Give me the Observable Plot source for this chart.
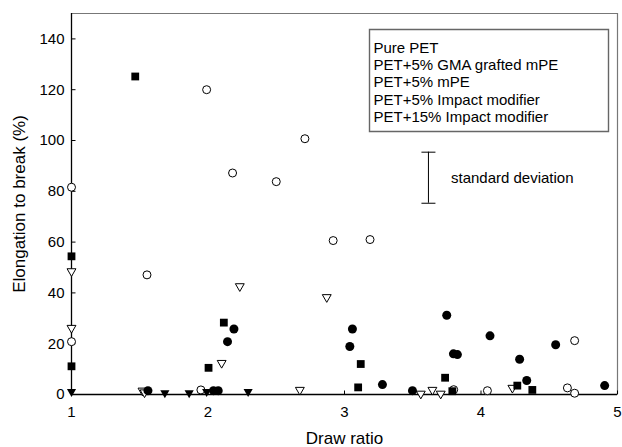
<!DOCTYPE html>
<html>
<head>
<meta charset="utf-8">
<script src="https://cdn.jsdelivr.net/npm/d3@7"></script>
<script src="https://cdn.jsdelivr.net/npm/@observablehq/plot@0.6"></script>
<style>
  html, body { margin: 0; padding: 0; background: #fff; }
  #chart { width: 622px; height: 447px; }
</style>
</head>
<body>
<div id="chart"></div>
<script>
// ---- Data ----
const seriesNames = ["Pure PET", "PET+5% GMA grafted mPE", "PET+5% mPE", "PET+5% Impact modifier", "PET+15% Impact modifier"];

const purePET_x = [1.56, 2.04, 2.075, 2.143, 2.19, 3.039, 3.058, 3.278, 3.498, 3.749, 3.798, 3.827, 4.066, 4.283, 4.335, 4.547, 4.906];
const purePET_y = [1.5, 1.5, 1.5, 20.8, 25.8, 18.9, 25.8, 3.9, 1.5, 31.2, 16.0, 15.7, 23.1, 13.9, 5.5, 19.6, 3.5];

const gma_x = [1.0, 1.0, 1.553, 1.948, 1.99, 2.18, 2.50, 2.71, 2.917, 3.187, 3.80, 4.047, 4.633, 4.686, 4.686];
const gma_y = [81.6, 20.8, 47.1, 1.8, 120.0, 87.2, 83.8, 100.7, 60.6, 61.0, 1.9, 1.5, 2.6, 0.5, 21.2];

const mpe_x = [1.0, 1.684, 1.862, 1.99, 2.294];
const mpe_y = [1.1, 0.6, 0.6, 1.1, 1.1];

const im5_x = [1.0, 1.0, 1.52, 1.535, 2.10, 2.233, 2.673, 2.87, 3.559, 3.644, 3.705, 4.23];
const im5_y = [48.5, 26.2, 1.5, 0.8, 12.4, 42.6, 1.8, 38.3, 0.3, 1.8, 0.3, 2.6];

const im15_x = [1.0, 1.0, 1.467, 2.004, 2.116, 3.10, 3.119, 3.737, 3.79, 4.266, 4.376];
const im15_y = [54.4, 11.1, 125.2, 10.5, 28.3, 2.8, 12.0, 6.6, 1.3, 3.5, 1.8];

const xTicks = [1, 2, 3, 4, 5];
const yTicks = [0, 20, 40, 60, 80, 100, 120, 140];
const xLabel = "Draw ratio";
const yLabel = "Elongation to break (%)";

// standard deviation annotation (data units)
const sdBar = [{x: 3.615, y1: 75.3, y2: 95.4}];
const sdLabel = [{x: 3.78, y: 85.3, text: "standard deviation"}];

// ---- Build tables ----
const zip = (xs, ys) => xs.map((x, i) => ({x, y: ys[i]}));
const purePET = zip(purePET_x, purePET_y);
const gma = zip(gma_x, gma_y);
const mpe = zip(mpe_x, mpe_y);
const im5 = zip(im5_x, im5_y);
const im15 = zip(im15_x, im15_y);

// ---- Custom symbols ----
const sqrt3 = Math.sqrt(3);
const triangleDown = {
  draw(context, size) {
    const y = Math.sqrt(size / (sqrt3 * 3));
    context.moveTo(0, 2 * y);
    context.lineTo(-sqrt3 * y, -y);
    context.lineTo(sqrt3 * y, -y);
    context.closePath();
  }
};
const tickRight = { draw(c) { c.moveTo(0, 0); c.lineTo(4, 0); } };
const tickUp = { draw(c) { c.moveTo(0, 0); c.lineTo(0, -4); } };
const capLine = { draw(c) { c.moveTo(-7, 0); c.lineTo(7, 0); } };
// legend box relative to top-right corner of the frame
const legendBox = { draw(c) { c.rect(-248, 16, 239, 102); } };

const W = 622, H = 447;
const ML = 71, MR = 5, MT = 13, MB = 53;

const chart = Plot.plot({
  width: W,
  height: H,
  marginLeft: ML,
  marginRight: MR,
  marginTop: MT,
  marginBottom: MB,
  style: {fontFamily: "'Liberation Sans', Arial, sans-serif", fontSize: "15px", background: "#fff", color: "#000"},
  x: {domain: [1, 5], label: null},
  y: {domain: [0, 150], label: null},
  marks: [
    // frame
    Plot.ruleY([150], {stroke: "#777", strokeWidth: 1.2}),
    Plot.ruleX([5], {stroke: "#777", strokeWidth: 1.2}),
    Plot.ruleY([0], {stroke: "#000", strokeWidth: 1.3}),
    Plot.ruleX([1], {stroke: "#000", strokeWidth: 1.3}),
    // inward ticks
    Plot.dot(yTicks, {x: d => 1, y: d => d, symbol: tickRight, stroke: "#000", strokeWidth: 1, r: 3}),
    Plot.dot(xTicks, {x: d => d, y: d => 0, symbol: tickUp, stroke: "#000", strokeWidth: 1, r: 3}),
    Plot.axisY({ticks: yTicks, tickFormat: d3.format("d"), tickSize: 0, tickPadding: 7, fontSize: 15, label: null}),
    Plot.axisX({ticks: xTicks, tickFormat: d3.format("d"), tickSize: 0, tickPadding: 12, fontSize: 15, label: null}),
    // axis titles
    Plot.text([yLabel], {frameAnchor: "left", dx: -52, rotate: -90, textAnchor: "middle", lineAnchor: "middle", fontSize: 17}),
    Plot.text([xLabel], {frameAnchor: "bottom", dy: 44, textAnchor: "middle", lineAnchor: "middle", fontSize: 17}),
    // legend
    Plot.dot([0], {frameAnchor: "top-right", symbol: legendBox, stroke: "#666", strokeWidth: 1.4, fill: "none", r: 3}),
    Plot.text([seriesNames.join("\n")], {frameAnchor: "top-left", dx: 302, dy: 27, textAnchor: "start", lineAnchor: "top", lineHeight: 1.155, fontSize: 15}),
    // standard deviation bar
    Plot.ruleX(sdBar, {x: "x", y1: "y1", y2: "y2", stroke: "#000", strokeWidth: 1}),
    Plot.dot(sdBar, {x: "x", y: "y1", symbol: capLine, stroke: "#000", strokeWidth: 1, r: 3}),
    Plot.dot(sdBar, {x: "x", y: "y2", symbol: capLine, stroke: "#000", strokeWidth: 1, r: 3}),
    Plot.text(sdLabel, {x: "x", y: "y", text: "text", textAnchor: "start", lineAnchor: "middle", fontSize: 15}),
    // data series
    Plot.dot(gma, {x: "x", y: "y", symbol: "circle", r: 4, fill: "#fff", stroke: "#000", strokeWidth: 1}),
    Plot.dot(im5, {x: "x", y: "y", symbol: triangleDown, r: 3.3, fill: "#fff", stroke: "#000", strokeWidth: 1}),
    Plot.dot(im15, {x: "x", y: "y", symbol: "square", r: 4.4, fill: "#000", stroke: "none"}),
    Plot.dot(mpe, {x: "x", y: "y", symbol: triangleDown, r: 3.4, fill: "#000", stroke: "none"}),
    Plot.dot(purePET, {x: "x", y: "y", symbol: "circle", r: 4.5, fill: "#000", stroke: "none"})
  ]
});
document.getElementById("chart").appendChild(chart);
</script>
</body>
</html>
